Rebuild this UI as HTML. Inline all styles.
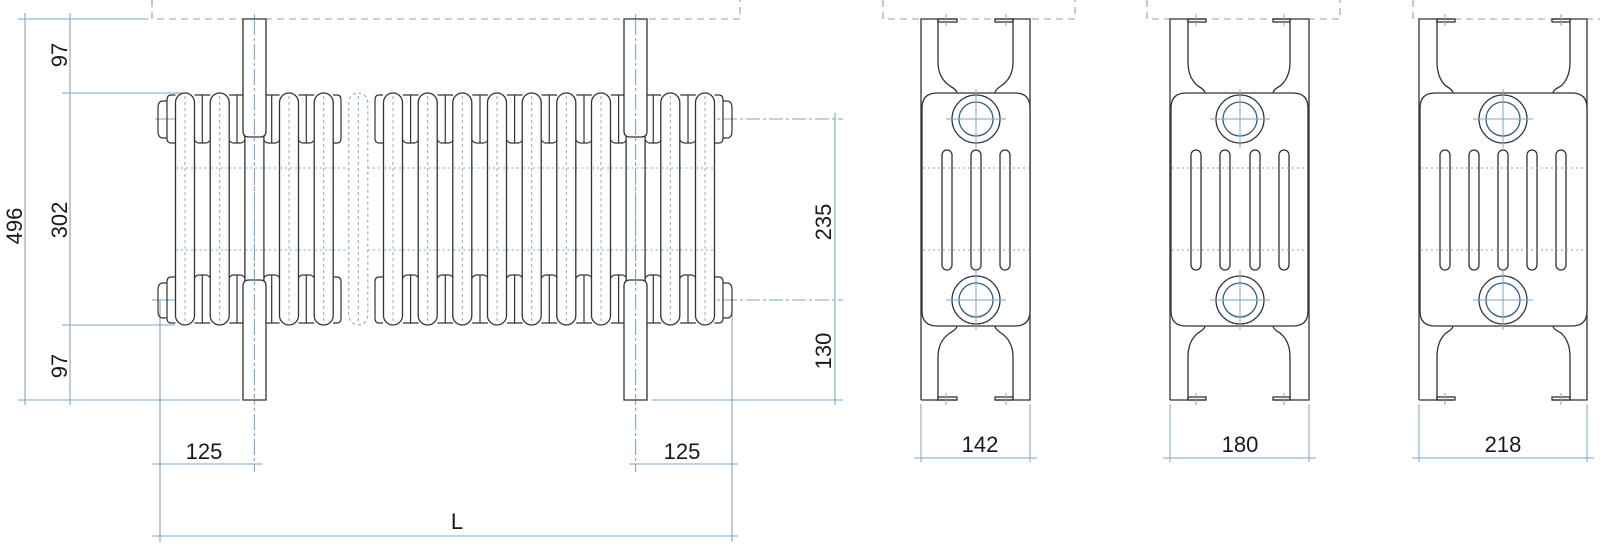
<!DOCTYPE html>
<html><head><meta charset="utf-8"><style>
html,body{margin:0;padding:0;background:#fff;}
svg{display:block;}
text{font-family:"Liberation Sans",sans-serif;font-size:22px;fill:#1a1a1a;}
</style></head><body>
<svg width="1600" height="544" viewBox="0 0 1600 544" xmlns="http://www.w3.org/2000/svg">
<defs>
<g id="gap" fill="none" stroke="#333" stroke-width="1.2">
  <path d="M9.5,95 H25.2 M17.3,95 V143 M9.5,140 Q11,143 14,143 H20.5 Q23.5,143 25.2,140"/>
  <path d="M9.5,323 H25.2 M17.3,275 V323 M9.5,278 Q11,275 14,275 H20.5 Q23.5,275 25.2,278"/>
</g>
<g id="pill">
  <rect x="-9.5" y="93" width="19" height="232" rx="9.5" fill="#fff" stroke="#333" stroke-width="1.3"/>
  <line x1="0" y1="96" x2="0" y2="322" stroke="#7aa7c7" stroke-width="0.9" stroke-dasharray="3,3"/>
  <line x1="-9" y1="168" x2="9" y2="168" stroke="#7aa7c7" stroke-width="0.9" stroke-dasharray="2,3"/>
  <line x1="-9" y1="250" x2="9" y2="250" stroke="#7aa7c7" stroke-width="0.9" stroke-dasharray="2,3"/>
</g>
<g id="hdash" stroke="#7aa7c7" stroke-width="0.9" stroke-dasharray="2,3">
  <line x1="9.5" y1="168" x2="25.2" y2="168"/><line x1="9.5" y1="250" x2="25.2" y2="250"/>
</g>
</defs>

<g stroke="#7aa7c7" stroke-width="1.1" fill="none">
  <line x1="25" y1="13" x2="25" y2="405"/>
  <line x1="70" y1="13" x2="70" y2="405"/>
  <line x1="18" y1="19" x2="148" y2="19"/>
  <line x1="62" y1="93" x2="185" y2="93"/>
  <line x1="62" y1="325" x2="175" y2="325"/>
  <line x1="18" y1="400" x2="240" y2="400"/>
  <line x1="652" y1="400" x2="843" y2="400"/>
  <line x1="835" y1="113" x2="835" y2="405"/>
  <line x1="700" y1="119" x2="843" y2="119" stroke-dasharray="14,3,3,3"/>
  <line x1="700" y1="300" x2="843" y2="300" stroke-dasharray="14,3,3,3"/>
  <line x1="155" y1="119" x2="190" y2="119"/>
  <line x1="152" y1="300" x2="190" y2="300"/>
  <line x1="160" y1="300" x2="160" y2="542"/>
  <line x1="732" y1="300" x2="732" y2="542"/>
  <line x1="152" y1="464" x2="262" y2="464"/>
  <line x1="629" y1="464" x2="738" y2="464"/>
  <line x1="152" y1="536" x2="738" y2="536"/>
  <line x1="254.4" y1="14" x2="254.4" y2="472" stroke-dasharray="16,3,3,3"/>
  <line x1="635.6" y1="14" x2="635.6" y2="472" stroke-dasharray="16,3,3,3"/>
  <path d="M152,0 V19 H740 V0" stroke-dasharray="7,5"/>
  <path d="M883,0 V19 H1075 V0" stroke-dasharray="7,5"/>
  <path d="M1147,0 V19 H1340 V0" stroke-dasharray="7,5"/>
  <path d="M1413,0 V19 H1600" stroke-dasharray="7,5"/>
</g>

<g fill="none" stroke="#333" stroke-width="1.2">
  <path d="M175.5,95 H171 Q167,95 167,100 V138 Q167,143 171,143 H175.5"/>
  <path d="M167,101 H163 Q158,101 158,108 V131 Q158,138 163,138 H167"/>
  <path d="M175.5,277 H171 Q167,277 167,282 V318 Q167,323 171,323 H175.5"/>
  <path d="M167,283 H163 Q158,283 158,290 V311 Q158,318 163,318 H167"/>
  <path d="M714.5,95 H719 Q723,95 723,100 V138 Q723,143 719,143 H714.5"/>
  <path d="M723,101 H727 Q732,101 732,108 V131 Q732,138 727,138 H723"/>
  <path d="M714.5,277 H719 Q723,277 723,282 V318 Q723,323 719,323 H714.5"/>
  <path d="M723,283 H727 Q732,283 732,290 V311 Q732,318 727,318 H723"/>
</g>
<g>
  <use href="#gap" x="185"/><use href="#gap" x="219.7"/><use href="#gap" x="254.4"/><use href="#gap" x="289"/>
  <use href="#gap" x="393.3"/><use href="#gap" x="428"/><use href="#gap" x="462.7"/><use href="#gap" x="497.3"/>
  <use href="#gap" x="532"/><use href="#gap" x="566.7"/><use href="#gap" x="601.3"/><use href="#gap" x="636"/><use href="#gap" x="670.7"/>
  <use href="#hdash" x="185"/><use href="#hdash" x="219.7"/><use href="#hdash" x="254.4"/><use href="#hdash" x="289"/>
  <use href="#hdash" x="323.7"/><use href="#hdash" x="358.3"/>
  <use href="#hdash" x="393.3"/><use href="#hdash" x="428"/><use href="#hdash" x="462.7"/><use href="#hdash" x="497.3"/>
  <use href="#hdash" x="532"/><use href="#hdash" x="566.7"/><use href="#hdash" x="601.3"/><use href="#hdash" x="636"/><use href="#hdash" x="670.7"/>
</g>
<g fill="none" stroke="#333" stroke-width="1.2">
  <path d="M333,95 H337 Q341,95 341,100 V138 Q341,143 337,143 H333"/>
  <path d="M333,323 H337 Q341,323 341,318 V282 Q341,277 337,277 H333"/>
  <path d="M383,95 H379 Q375,95 375,100 V138 Q375,143 379,143 H383"/>
  <path d="M383,323 H379 Q375,323 375,318 V282 Q375,277 379,277 H383"/>
</g>
<g>
  <use href="#pill" x="185"/><use href="#pill" x="219.7"/><use href="#pill" x="254.4"/><use href="#pill" x="289"/>
  <use href="#pill" x="323.7"/>
  <use href="#pill" x="393"/><use href="#pill" x="427.7"/><use href="#pill" x="462.3"/><use href="#pill" x="497"/>
  <use href="#pill" x="531.7"/><use href="#pill" x="566.3"/><use href="#pill" x="601"/><use href="#pill" x="635.6"/>
  <use href="#pill" x="670.3"/><use href="#pill" x="705"/>
</g>
<g fill="none" stroke="#7aa7c7" stroke-width="1" stroke-dasharray="3,3">
  <rect x="348.8" y="93" width="19" height="232" rx="9.5"/>
  <line x1="358.3" y1="96" x2="358.3" y2="322"/>
</g>
<g fill="#fff" stroke="#333" stroke-width="1.3">
  <path d="M243,19 H266 V131 Q266,137 260,137 H249 Q243,137 243,131 Z"/>
  <path d="M243,400 V286 Q243,280 249,280 H260 Q266,280 266,286 V400 Z"/>
  <path d="M624,19 H647 V131 Q647,137 641,137 H630 Q624,137 624,131 Z"/>
  <path d="M624,400 V286 Q624,280 630,280 H641 Q647,280 647,286 V400 Z"/>
</g>
<g stroke="#7aa7c7" stroke-width="1.1" stroke-dasharray="16,3,3,3">
  <line x1="254.4" y1="19" x2="254.4" y2="400"/>
  <line x1="635.6" y1="19" x2="635.6" y2="400"/>
</g>

<g fill="none" stroke="#333" stroke-width="1.3">
  <path d="M921,400 V19 H957 M995,19 H1030 V400 H995 M957,400 H921"/>
  <path d="M938,19 V62 Q938,78 950,86 Q957,90 957,93 M1013,19 V62 Q1013,78 1001,86 Q995,90 995,93"/>
  <path d="M938,400 V357 Q938,341 950,333 Q957,329 957,326 M1013,400 V357 Q1013,341 1001,333 Q995,329 995,326"/>
  <path d="M922,108 Q922,93 937,93 H1015 Q1030,93 1030,108 V311 Q1030,326 1015,326 H937 Q922,326 922,311 Z" fill="#fff"/>
  <rect x="938" y="19" width="19" height="3"/><rect x="995" y="19" width="18" height="3"/>
  <rect x="938" y="397" width="19" height="3"/><rect x="995" y="397" width="18" height="3"/>
  <circle cx="976" cy="119" r="24"/><circle cx="976" cy="300" r="24"/>
  <circle cx="976" cy="119" r="17" stroke="#2f5f80"/><circle cx="976" cy="300" r="17" stroke="#2f5f80"/>
  <rect x="942" y="150" width="10" height="120" rx="5"/><rect x="971" y="150" width="10" height="120" rx="5"/><rect x="1000" y="150" width="10" height="120" rx="5"/>
</g>
<g fill="none" stroke="#333" stroke-width="1.3">
  <path d="M1170,400 V19 H1205 M1273,19 H1309 V400 H1273 M1205,400 H1170"/>
  <path d="M1188,19 V62 Q1188,78 1198,86 Q1205,90 1205,93 M1290,19 V62 Q1290,78 1280,86 Q1273,90 1273,93"/>
  <path d="M1188,400 V357 Q1188,341 1198,333 Q1205,329 1205,326 M1290,400 V357 Q1290,341 1280,333 Q1273,329 1273,326"/>
  <path d="M1171,108 Q1171,93 1186,93 H1293 Q1308,93 1308,108 V311 Q1308,326 1293,326 H1186 Q1171,326 1171,311 Z" fill="#fff"/>
  <rect x="1188" y="19" width="18" height="3"/><rect x="1273" y="19" width="17" height="3"/>
  <rect x="1188" y="397" width="18" height="3"/><rect x="1273" y="397" width="17" height="3"/>
  <circle cx="1240" cy="119" r="24"/><circle cx="1240" cy="300" r="24"/>
  <circle cx="1240" cy="119" r="17" stroke="#2f5f80"/><circle cx="1240" cy="300" r="17" stroke="#2f5f80"/>
  <rect x="1191" y="150" width="10" height="120" rx="5"/><rect x="1220" y="150" width="10" height="120" rx="5"/><rect x="1250" y="150" width="10" height="120" rx="5"/><rect x="1279" y="150" width="10" height="120" rx="5"/>
</g>
<g fill="none" stroke="#333" stroke-width="1.3">
  <path d="M1419,400 V19 H1453 M1553,19 H1587 V400 H1553 M1453,400 H1419"/>
  <path d="M1437,19 V62 Q1437,78 1446,86 Q1453,90 1453,93 M1570,19 V62 Q1570,78 1561,86 Q1553,90 1553,93"/>
  <path d="M1437,400 V357 Q1437,341 1446,333 Q1453,329 1453,326 M1570,400 V357 Q1570,341 1561,333 Q1553,329 1553,326"/>
  <path d="M1420,108 Q1420,93 1435,93 H1572 Q1587,93 1587,108 V311 Q1587,326 1572,326 H1435 Q1420,326 1420,311 Z" fill="#fff"/>
  <rect x="1437" y="19" width="18" height="3"/><rect x="1552" y="19" width="18" height="3"/>
  <rect x="1437" y="397" width="18" height="3"/><rect x="1552" y="397" width="18" height="3"/>
  <circle cx="1503" cy="119" r="24"/><circle cx="1503" cy="300" r="24"/>
  <circle cx="1503" cy="119" r="17" stroke="#2f5f80"/><circle cx="1503" cy="300" r="17" stroke="#2f5f80"/>
  <rect x="1440" y="150" width="10" height="120" rx="5"/><rect x="1469" y="150" width="10" height="120" rx="5"/><rect x="1498" y="150" width="10" height="120" rx="5"/><rect x="1527" y="150" width="10" height="120" rx="5"/><rect x="1556" y="150" width="10" height="120" rx="5"/>
</g>
<g stroke="#7aa7c7" stroke-width="1" fill="none">
  <g stroke-dasharray="2,3">
    <line x1="923" y1="168" x2="1029" y2="168"/><line x1="923" y1="250" x2="1029" y2="250"/>
    <line x1="1172" y1="168" x2="1307" y2="168"/><line x1="1172" y1="250" x2="1307" y2="250"/>
    <line x1="1421" y1="168" x2="1586" y2="168"/><line x1="1421" y1="250" x2="1586" y2="250"/>
  </g>
  <path d="M946,14 V26 M1006,14 V26 M946,393 V405 M1006,393 V405"/>
  <path d="M1196,14 V26 M1284,14 V26 M1196,393 V405 M1284,393 V405"/>
  <path d="M1445,14 V26 M1561,14 V26 M1445,393 V405 M1561,393 V405"/>
  <path d="M946,119 H1006 M976,89 V148 M946,300 H1006 M976,270 V330"/>
  <path d="M1210,119 H1270 M1240,89 V148 M1210,300 H1270 M1240,270 V330"/>
  <path d="M1473,119 H1533 M1503,89 V148 M1473,300 H1533 M1503,270 V330"/>
  <path d="M921,404 V462 M1030,404 V462 M914,458 H1037"/>
  <path d="M1170,404 V462 M1309,404 V462 M1163,458 H1316"/>
  <path d="M1419,404 V462 M1587,404 V462 M1412,458 H1594"/>
</g>

<text transform="translate(67,55) rotate(-90)" text-anchor="middle">97</text>
<text transform="translate(67,220) rotate(-90)" text-anchor="middle">302</text>
<text transform="translate(22,226) rotate(-90)" text-anchor="middle">496</text>
<text transform="translate(67,366) rotate(-90)" text-anchor="middle">97</text>
<text transform="translate(831,222) rotate(-90)" text-anchor="middle">235</text>
<text transform="translate(831,351) rotate(-90)" text-anchor="middle">130</text>
<text x="204" y="459" text-anchor="middle">125</text>
<text x="682" y="459" text-anchor="middle">125</text>
<text x="457" y="529" text-anchor="middle">L</text>
<text x="980" y="452" text-anchor="middle">142</text>
<text x="1240" y="452" text-anchor="middle">180</text>
<text x="1503" y="452" text-anchor="middle">218</text>
</svg>
</body></html>
